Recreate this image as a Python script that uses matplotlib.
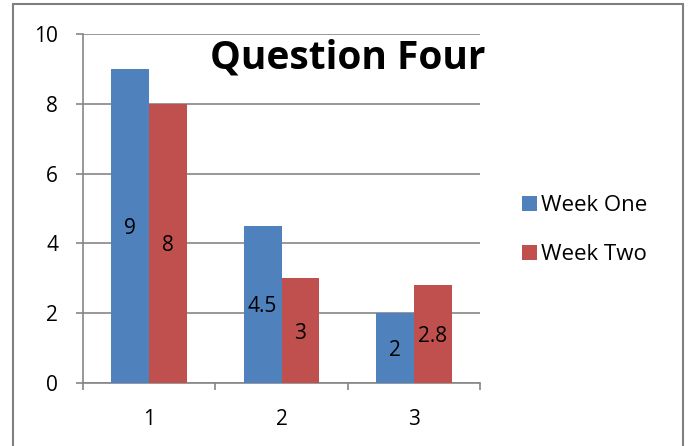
import matplotlib
matplotlib.use("Agg")
import matplotlib.pyplot as plt
import numpy as np
from matplotlib.patches import Rectangle

# data
categories = ["1", "2", "3"]
week_one = [9, 4.5, 2]
week_two = [8, 3, 2.8]
series_names = ["Week One", "Week Two"]
colors = ["#4F81BD", "#C0504D"]

plt.rcParams["font.family"] = ["Open Sans", "DejaVu Sans"]

fig = plt.figure(figsize=(6.89, 4.46), dpi=100)
ax = fig.add_axes([0.1205, 0.1413, 0.5762, 0.7825])

# outer chart border
fig.patches.append(Rectangle((0.019, -0.05), 0.972, 1.041, transform=fig.transFigure,
                             fill=False, edgecolor="#7f7f7f", linewidth=1.5))

x = np.arange(len(categories))
w = 1 / 3.5
bars1 = ax.bar(x - w / 2, week_one, w, color=colors[0], label=series_names[0], zorder=3)
bars2 = ax.bar(x + w / 2, week_two, w, color=colors[1], label=series_names[1], zorder=3)

# value labels in the middle of each bar
for bars, vals in [(bars1, week_one), (bars2, week_two)]:
    for b, v in zip(bars, vals):
        ax.text(b.get_x() + b.get_width() / 2, v / 2, f"{v:g}", ha="center",
                va="center_baseline", fontsize=15, color="black", zorder=4)

ax.set_xlim(-0.5, 2.5)
ax.set_ylim(0, 10)
ax.set_yticks([0, 2, 4, 6, 8, 10])
ax.set_xticks([-0.5, 0.5, 1.5, 2.5])
ax.set_xticklabels([])
ax.set_xticks(x, minor=True)
ax.set_xticklabels(categories, minor=True)
ax.tick_params(axis="x", which="minor", length=0, pad=19, labelsize=15)
ax.tick_params(axis="x", which="major", length=5, color="#868686", width=1.2)
ax.tick_params(axis="y", length=5, color="#868686", width=1.2, labelsize=15, pad=13)
ax.yaxis.grid(True, color="#868686", linewidth=1.2, zorder=0)

for s in ["top", "right"]:
    ax.spines[s].set_visible(False)
ax.spines["left"].set_color("#868686")
ax.spines["bottom"].set_color("#868686")
ax.spines["left"].set_linewidth(1.2)
ax.spines["bottom"].set_linewidth(1.2)

ax.text(0.46, 9.3, "Question Four", fontsize=28, fontweight="bold", ha="left", va="center", zorder=5)

ax.legend(loc="center left", bbox_to_anchor=(1.077, 0.438), frameon=False, fontsize=16,
          borderpad=0, handlelength=0.68, handleheight=0.68, handletextpad=0.2, labelspacing=1.27)

fig.savefig("out.png", dpi=100)
